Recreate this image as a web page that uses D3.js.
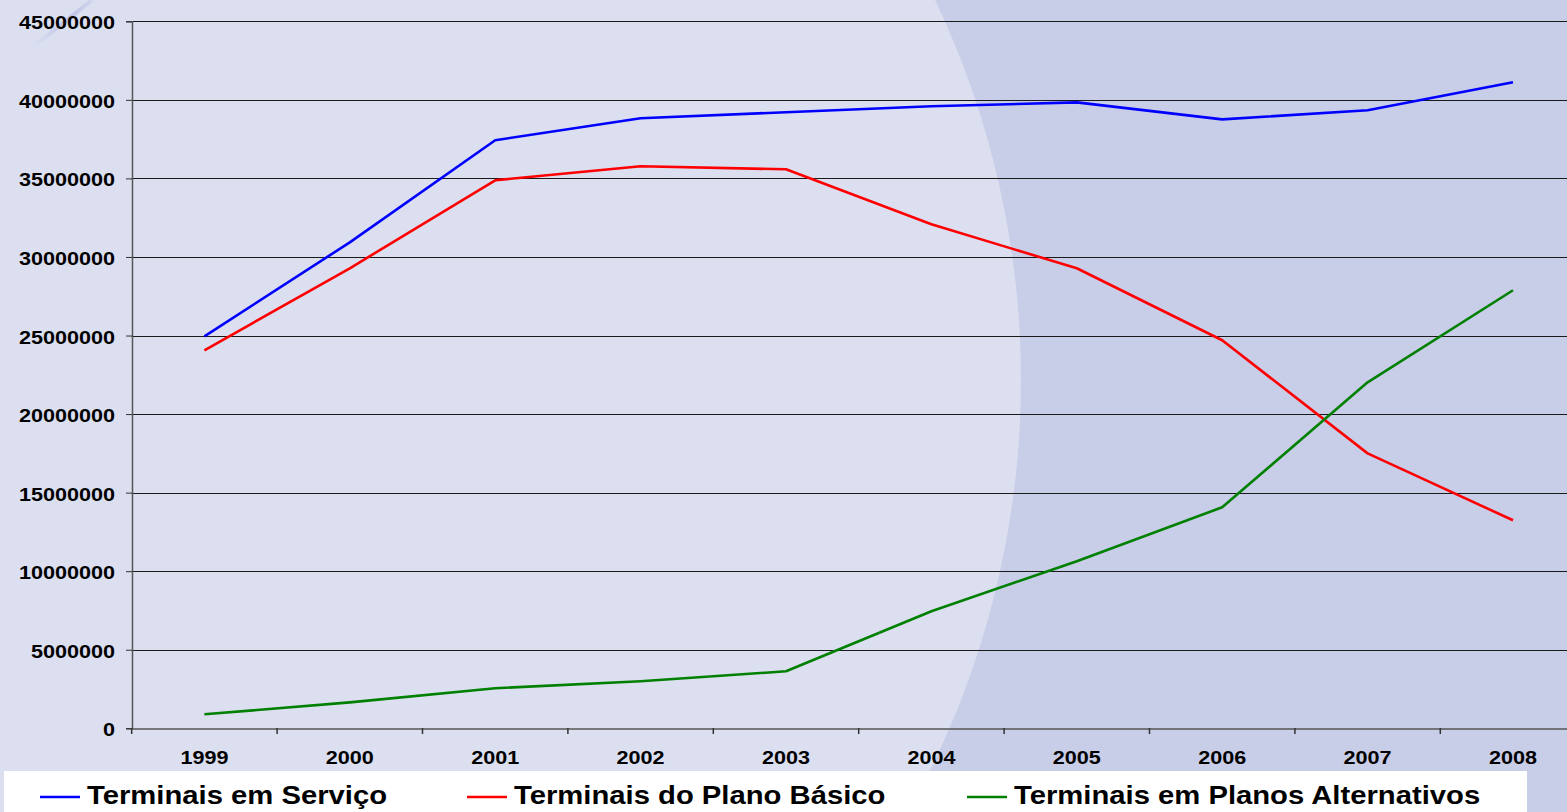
<!DOCTYPE html>
<html>
<head>
<meta charset="utf-8">
<script src="https://cdn.jsdelivr.net/npm/d3@7"></script>
<style>
  html, body { margin: 0; padding: 0; overflow: hidden; background: #c8cde8; }
  text { font-family: "Liberation Sans", Arial, sans-serif; font-weight: bold; fill: #000; }
</style>
</head>
<body>
<div id="chart"></div>
<script>
// Data
const years = ["1999", "2000", "2001", "2002", "2003", "2004", "2005", "2006", "2007", "2008"];
const emServico = [24950000, 30930000, 37430000, 38830000, 39210000, 39590000, 39840000, 38760000, 39340000, 41120000];
const planoBasico = [24060000, 29280000, 34880000, 35770000, 35580000, 32080000, 29280000, 24700000, 17500000, 13240000];
const planosAlternativos = [890000, 1650000, 2550000, 2990000, 3630000, 7450000, 10630000, 14070000, 22020000, 27880000];
const yTicks = [0, 5000000, 10000000, 15000000, 20000000, 25000000, 30000000, 35000000, 40000000, 45000000];

const series = [
  { label: "Terminais em Serviço", values: emServico, color: "#0000ff" },
  { label: "Terminais do Plano Básico", values: planoBasico, color: "#ff0000" },
  { label: "Terminais em Planos Alternativos", values: planosAlternativos, color: "#008000" }
];

const W = 1567, H = 812;
const svg = d3.select("#chart").append("svg")
  .attr("width", W).attr("height", H);

// --- background: light ellipse over darker lavender ---
svg.append("rect").attr("width", W).attr("height", H).attr("fill", "#c8cde8");
svg.append("ellipse")
  .attr("cx", 121).attr("cy", 380)
  .attr("rx", 900).attr("ry", 891)
  .attr("fill", "#dbdff0");

// faint streak top-left
const defs = svg.append("defs");
const sg = defs.append("linearGradient").attr("id", "streak")
  .attr("x1", "0%").attr("y1", "100%").attr("x2", "100%").attr("y2", "0%");
sg.append("stop").attr("offset", "0%").attr("stop-color", "#c0c5e8").attr("stop-opacity", 0);
sg.append("stop").attr("offset", "60%").attr("stop-color", "#b8bde6").attr("stop-opacity", 0.9);
sg.append("stop").attr("offset", "100%").attr("stop-color", "#c0c5e8").attr("stop-opacity", 0.4);
svg.append("path")
  .attr("d", "M33,47 L92,0")
  .attr("stroke", "url(#streak)")
  .attr("stroke-width", 4)
  .attr("fill", "none");

// --- scales ---
const x = d3.scaleBand().domain(years).range([131.7, 1585.7]);
const y = d3.scaleLinear().domain([0, 45000000]).range([728.3, 21.3]);

// gridlines
svg.append("g")
  .selectAll("line")
  .data(yTicks.filter(d => d > 0))
  .join("line")
  .attr("x1", 131.7).attr("x2", W)
  .attr("y1", d => Math.round(y(d)) + 0.5)
  .attr("y2", d => Math.round(y(d)) + 0.5)
  .attr("stroke", "#1a1a1a")
  .attr("stroke-width", 1.2);

// Y axis
const yAxis = svg.append("g")
  .attr("transform", "translate(132,0)")
  .call(d3.axisLeft(y).tickValues(yTicks).tickFormat(d3.format("d")).tickSize(6).tickPadding(0));
yAxis.select(".domain").attr("stroke", "#555").attr("stroke-width", 1.5);
yAxis.selectAll(".tick line").attr("stroke", "#333");
yAxis.selectAll(".tick text")
  .attr("font-size", 18)
  .attr("x", 0)
  .attr("dy", "0.36em")
  .attr("transform", "translate(-17,1) scale(1.2,1)");

// X axis
const xAxis = svg.append("g")
  .attr("transform", "translate(0,728.5)")
  .call(d3.axisBottom(x).tickSize(0).tickPadding(0));
xAxis.select(".domain").attr("stroke", "#555").attr("stroke-width", 1.5);
xAxis.selectAll(".tick text")
  .attr("font-size", 18)
  .attr("y", 0)
  .attr("dy", 0)
  .attr("transform", "translate(0,35) scale(1.2,1)");
// tick marks at band boundaries
svg.append("g")
  .selectAll("line")
  .data(years)
  .join("line")
  .attr("x1", d => x(d)).attr("x2", d => x(d))
  .attr("y1", 728).attr("y2", 734)
  .attr("stroke", "#333").attr("stroke-width", 1.5);

// --- lines ---
const line = d3.line()
  .x((d, i) => x(years[i]) + x.bandwidth() / 2)
  .y(d => y(d));

series.forEach(s => {
  svg.append("path")
    .datum(s.values)
    .attr("d", line)
    .attr("fill", "none")
    .attr("stroke", s.color)
    .attr("stroke-width", 2.6)
    .attr("stroke-linejoin", "round");
});

// --- legend ---
svg.append("rect")
  .attr("x", 4).attr("y", 771)
  .attr("width", 1523).attr("height", 41)
  .attr("fill", "#fff");

const legendX = [40, 467, 967];
const legend = svg.append("g");
series.forEach((s, i) => {
  legend.append("line")
    .attr("x1", legendX[i]).attr("x2", legendX[i] + 40)
    .attr("y1", 797).attr("y2", 797)
    .attr("stroke", s.color).attr("stroke-width", 2.6);
  legend.append("text")
    .attr("transform", `translate(${legendX[i] + 47},804) scale(1.17,1)`)
    .attr("font-size", 25)
    .text(s.label);
});
</script>
</body>
</html>
